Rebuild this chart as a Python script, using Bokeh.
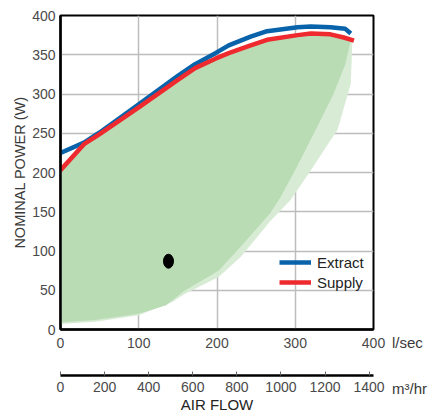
from bokeh.plotting import figure
from bokeh.models import Range1d, LinearAxis, FixedTicker, Legend, LegendItem
from bokeh.embed import file_html
from bokeh.resources import INLINE

FONT = "Liberation Sans"

# Fan curves: airflow (l/sec) vs nominal power (W)
extract_x = [0, 30, 50, 100, 150, 172, 198, 215, 243, 264, 303, 320, 345, 364, 371]
extract_y = [225, 238, 251, 287, 323, 338, 352, 362, 373, 380, 385, 386, 385, 383, 377]
supply_x = [0, 30, 50, 100, 150, 172, 198, 215, 243, 264, 303, 320, 345, 362, 375]
supply_y = [203, 236, 249, 283, 318, 333, 345, 352, 362, 369, 375, 377, 376, 372, 368]

# Operating envelope lower boundaries (outer pale band and inner area)
outer_x = [0, 45, 100, 143, 158, 202, 230, 268, 294, 320, 345, 354, 371, 373]
outer_y = [7, 10, 18, 35, 45, 67, 92, 138, 165, 203, 241, 254, 313, 368]
inner_x = [0, 45, 100, 135, 158, 202, 230, 268, 281, 302, 328, 349, 364, 371]
inner_y = [9, 12, 20, 31, 49, 75, 105, 148, 168, 207, 258, 300, 338, 368]

# Single operating point marker
marker_x = [138]
marker_y = [87]

x_ticks = [0, 100, 200, 300, 400]
y_ticks = [0, 50, 100, 150, 200, 250, 300, 350, 400]
m3h_ticks = [0, 200, 400, 600, 800, 1000, 1200, 1400]
unit_labels = ["l/sec", "m³/hr"]

p = figure(frame_width=313, frame_height=314,
           x_range=Range1d(0, 400), y_range=Range1d(0, 400),
           output_backend="svg", toolbar_location=None,
           min_border_left=60, min_border_right=55, min_border_top=15, min_border_bottom=84,
           background_fill_color="white", border_fill_color="white")
p.outline_line_color = "black"
p.outline_line_width = 2

# envelope fills
p.patch(supply_x + outer_x[::-1], supply_y + outer_y[::-1],
        fill_color="#d8ecd5", line_color=None)
p.patch(supply_x + inner_x[::-1], supply_y + inner_y[::-1],
        fill_color="#b9dcb5", line_color=None)

r_ext = p.line(extract_x, extract_y, line_color="#0863ab", line_width=4.5)
r_sup = p.line(supply_x, supply_y, line_color="#ee2a2f", line_width=4.5)

p.ellipse(x=marker_x, y=marker_y, width=10, height=14,
          width_units="screen", height_units="screen", color="black")

# invisible renderer that carries the unit captions
r_unit = p.line(x=[], y=[], line_alpha=0)

# grid
p.xgrid.ticker = FixedTicker(ticks=x_ticks)
p.ygrid.ticker = FixedTicker(ticks=y_ticks)
for g in (p.xgrid, p.ygrid):
    g.grid_line_color = "#bdbdbd"
    g.grid_line_width = 1.5
    g.level = "underlay"

# main axes
xa = p.xaxis[0]
xa.ticker = FixedTicker(ticks=x_ticks)
ya = p.yaxis[0]
ya.ticker = FixedTicker(ticks=y_ticks)
for ax in (xa, ya):
    ax.major_tick_out = 0
    ax.major_tick_in = 0
    ax.minor_tick_out = 0
    ax.minor_tick_in = 0
    ax.axis_line_color = "black"
    ax.axis_line_width = 2.5
    ax.major_label_text_font = FONT
    ax.major_label_text_font_size = "14px"
    ax.major_label_text_color = "#4a4a4a"
    ax.axis_label_text_font = FONT
    ax.axis_label_text_font_style = "normal"
xa.major_label_standoff = 8
xa.axis_label = " "
xa.axis_label_text_font_size = "14px"
xa.axis_label_standoff = 6
ya.major_label_standoff = 5
ya.axis_label = "NOMINAL POWER (W)"
ya.axis_label_text_font_size = "14.5px"
ya.axis_label_text_color = "#3a3a3a"
ya.axis_label_standoff = 1

# secondary airflow axis in m3/hr
p.extra_x_ranges = {"m3h": Range1d(0, 1420)}
ax2 = LinearAxis(x_range_name="m3h", ticker=FixedTicker(ticks=m3h_ticks),
                 axis_label="AIR FLOW")
ax2.major_tick_in = 4
ax2.major_tick_out = 0
ax2.minor_tick_in = 0
ax2.minor_tick_out = 0
ax2.major_tick_line_color = "#666666"
ax2.axis_line_color = "black"
ax2.axis_line_width = 2.5
ax2.major_label_standoff = 6
ax2.major_label_text_font = FONT
ax2.major_label_text_font_size = "14px"
ax2.major_label_text_color = "#4a4a4a"
ax2.axis_label_text_font = FONT
ax2.axis_label_text_font_size = "15px"
ax2.axis_label_text_font_style = "normal"
ax2.axis_label_text_color = "#222222"
ax2.axis_label_standoff = 1
p.add_layout(ax2, "below")

# unit captions, in a side-panel legend (side panels are not clipped to the frame)
units = Legend(items=[LegendItem(label=t, renderers=[r_unit]) for t in unit_labels],
               location=(19, -69))
units.glyph_width = 0
units.glyph_height = 20
units.label_height = 20
units.label_width = 10
units.spacing = 26
units.padding = 0
units.margin = 0
units.label_standoff = 0
units.label_text_font = FONT
units.label_text_font_size = "15px"
units.label_text_color = "#3a3a3a"
units.background_fill_alpha = 0
units.border_line_alpha = 0
units.click_policy = "none"
p.add_layout(units, "right")

legend = Legend(items=[LegendItem(label="Extract", renderers=[r_ext]),
                       LegendItem(label="Supply", renderers=[r_sup])],
                location=(219, 37))
legend.glyph_width = 32
legend.glyph_height = 20
legend.label_height = 20
legend.spacing = 0
legend.padding = 0
legend.margin = 0
legend.label_standoff = 6
legend.label_text_font = FONT
legend.label_text_font_size = "15px"
legend.label_text_color = "#222222"
legend.background_fill_alpha = 0
legend.border_line_alpha = 0
p.add_layout(legend)

open("out.html", "w").write(file_html(p, INLINE))
